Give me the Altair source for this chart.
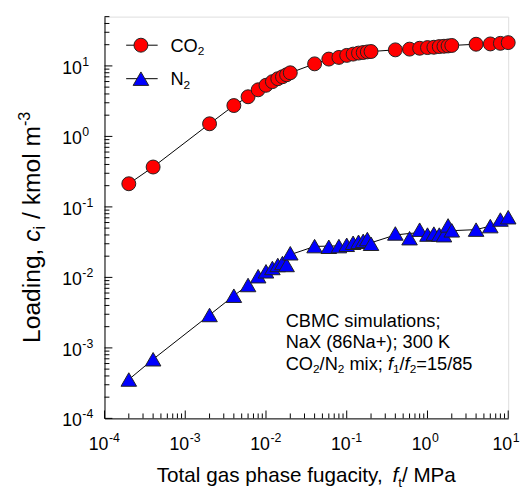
import altair as alt
import pandas as pd

# ---------------- data ----------------
fugacity = [2e-4, 4e-4, 2e-3, 4e-3, 6e-3, 8e-3, 1e-2, 1.2e-2, 1.4e-2, 1.6e-2, 1.8e-2, 2e-2,
            4e-2, 6e-2, 8e-2, 0.1, 0.12, 0.14, 0.16, 0.18, 0.2,
            0.4, 0.6, 0.8, 1.0, 1.2, 1.4, 1.6, 1.8, 2.0,
            4.0, 6.0, 8.0, 10.0]
co2_loading = [0.213, 0.368, 1.51, 2.74, 3.65, 4.58, 5.31, 5.98, 6.58, 7.02, 7.49, 7.99,
               10.7, 12.5, 13.2, 14.1, 14.7, 15.2, 15.5, 15.8, 16.0,
               16.9, 17.3, 17.8, 18.2, 18.4, 18.8, 19.0, 19.2, 19.5,
               20.3, 20.5, 20.9, 21.4]
n2_loading = [3.56e-4, 6.9e-4, 2.93e-3, 5.5e-3, 7.8e-3, 1.04e-2, 1.22e-2, 1.36e-2, 1.5e-2, 1.6e-2, 1.5e-2, 2.2e-2,
              2.78e-2, 2.72e-2, 2.78e-2, 2.9e-2, 3.1e-2, 3.2e-2, 3.3e-2, 3.5e-2, 3.0e-2,
              4.2e-2, 3.6e-2, 4.75e-2, 4.05e-2, 4.18e-2, 4.05e-2, 3.97e-2, 5.46e-2, 4.65e-2,
              4.76e-2, 5.34e-2, 6.62e-2, 7.14e-2]
# smooth line drawn through the N2 data
n2_curve = [3.56e-4, 6.9e-4, 2.93e-3, 5.5e-3, 7.8e-3, 1.02e-2, 1.2e-2, 1.36e-2, 1.52e-2, 1.66e-2, 1.8e-2, 2.1e-2,
            2.75e-2, 2.78e-2, 2.8e-2, 2.85e-2, 2.9e-2, 2.95e-2, 3.0e-2, 3.05e-2, 3.1e-2,
            4.0e-2, 4.2e-2, 4.3e-2, 4.35e-2, 4.4e-2, 4.45e-2, 4.5e-2, 4.55e-2, 4.6e-2,
            4.76e-2, 5.34e-2, 6.4e-2, 7.14e-2]

x_decades = [-4, -3, -2, -1, 0, 1]
y_decades = [-4, -3, -2, -1, 0, 1]

# ---------------- layout ----------------
W, H = 410, 408
FONT = "Liberation Sans"
xs = alt.Scale(type="log", domain=[1e-4, 10], nice=False)
ys = alt.Scale(type="log", domain=[1e-4, 50], nice=False)
ax = alt.Axis(domain=True, domainColor="black", domainWidth=1, ticks=False,
              labels=False, grid=False, title=None)

AW = {' ': 278, '(': 333, ')': 333, '+': 584, ',': 278, '-': 333, '.': 278, '/': 278, ';': 278,
      '=': 584, 'A': 667, 'B': 667, 'C': 722, 'K': 667, 'L': 556, 'M': 833, 'N': 722, 'O': 778,
      'P': 667, 'T': 611, 'X': 667, 'a': 556, 'c': 500, 'd': 556, 'e': 556, 'f': 278, 'g': 556,
      'h': 556, 'i': 222, 'k': 500, 'l': 222, 'm': 833, 'n': 556, 'o': 556, 'p': 556, 's': 500,
      't': 278, 'u': 556, 'x': 500, 'y': 500}


def tw(s, size):
    return sum(AW.get(c, 556) for c in s) * size / 1000.0


def rich(segs, x0, y0, size, angle=0, center=False):
    """segs: list of (text, kind) kind in n, i, sub, isub, sup"""
    total = 0
    for t, k in segs:
        fs = size * 0.65 if k in ("sub", "isub", "sup") else size
        total += tw(t, fs)
    pos = -total / 2 if center else 0
    layers = []
    for t, k in segs:
        fs = size * 0.65 if k in ("sub", "isub", "sup") else size
        shift = 0.2 * size if k in ("sub", "isub") else (-0.42 * size if k == "sup" else 0)
        style = "italic" if k in ("i", "isub") else "normal"
        stripped = t.lstrip(" ")
        lead = tw(t[: len(t) - len(stripped)], fs)
        p = pos + lead
        if angle == 0:
            px, py = x0 + p, y0 + shift
        else:
            px, py = x0 + shift, y0 - p
        layers.append(
            alt.Chart(alt.Data(values=[{}])).mark_text(
                text=stripped, align="left", baseline="alphabetic", font=FONT, fontSize=fs,
                fontStyle=style, angle=angle, color="black"
            ).encode(x=alt.value(px), y=alt.value(py))
        )
        pos += tw(t, fs)
    return layers


df = pd.DataFrame({"f": fugacity, "co2": co2_loading, "n2": n2_loading, "n2c": n2_curve})

co2_line = alt.Chart(df).mark_line(color="black", strokeWidth=1).encode(
    x=alt.X("f:Q", scale=xs, axis=ax), y=alt.Y("co2:Q", scale=ys, axis=ax), order="f:Q")
n2_line = alt.Chart(df).mark_line(color="black", strokeWidth=1).encode(
    x=alt.X("f:Q", scale=xs, axis=ax), y=alt.Y("n2c:Q", scale=ys, axis=ax), order="f:Q")
co2_pts = alt.Chart(df).mark_point(shape="circle", filled=True, fill="#ff0000", stroke="#222222",
                                   strokeWidth=1, size=200, opacity=1).encode(
    x=alt.X("f:Q", scale=xs, axis=ax), y=alt.Y("co2:Q", scale=ys, axis=ax))
n2_pts = alt.Chart(df).mark_point(shape="triangle-up", filled=True, fill="#0000ff", stroke="#222222",
                                  strokeWidth=1, size=250, opacity=1).encode(
    x=alt.X("f:Q", scale=xs, axis=ax), y=alt.Y("n2:Q", scale=ys, axis=ax))

# inside ticks
xt_major = [10.0 ** d for d in x_decades]
xt_minor = [m * 10.0 ** d for d in x_decades[:-1] for m in range(2, 10)]
yt_major = [10.0 ** d for d in y_decades]
yt_minor = [m * 10.0 ** d for d in y_decades[:-1] for m in range(2, 10)] + [20, 30, 40, 50]

tick_layers = [
    alt.Chart(pd.DataFrame({"v": xt_major})).mark_rule(color="black", strokeWidth=1).encode(
        x=alt.X("v:Q", scale=xs, axis=ax), y=alt.value(H), y2=alt.value(H - 8)),
    alt.Chart(pd.DataFrame({"v": xt_minor})).mark_rule(color="black", strokeWidth=1).encode(
        x=alt.X("v:Q", scale=xs, axis=ax), y=alt.value(H), y2=alt.value(H - 5)),
    alt.Chart(pd.DataFrame({"v": yt_major})).mark_rule(color="black", strokeWidth=1).encode(
        y=alt.Y("v:Q", scale=ys, axis=ax), x=alt.value(0), x2=alt.value(8)),
    alt.Chart(pd.DataFrame({"v": yt_minor})).mark_rule(color="black", strokeWidth=1).encode(
        y=alt.Y("v:Q", scale=ys, axis=ax), x=alt.value(0), x2=alt.value(5)),
]

# tick labels 10^n
xl = pd.DataFrame({"v": [10.0 ** d for d in x_decades], "e": [str(d) for d in x_decades], "b": ["10"] * 6})
yl = pd.DataFrame({"v": [10.0 ** d for d in y_decades], "e": [str(d) for d in y_decades], "b": ["10"] * 6})
label_layers = [
    alt.Chart(xl).mark_text(align="right", baseline="middle", font=FONT, fontSize=18, dx=4, color="black").encode(
        x=alt.X("v:Q", scale=xs, axis=ax), y=alt.value(H + 27), text="b:N"),
    alt.Chart(xl).mark_text(align="left", baseline="middle", font=FONT, fontSize=12.5, dx=4.5, color="black").encode(
        x=alt.X("v:Q", scale=xs, axis=ax), y=alt.value(H + 20), text="e:N"),
    alt.Chart(yl).mark_text(align="left", baseline="middle", font=FONT, fontSize=18, dy=3, color="black").encode(
        y=alt.Y("v:Q", scale=ys, axis=ax), x=alt.value(-43), text="b:N"),
    alt.Chart(yl).mark_text(align="left", baseline="middle", font=FONT, fontSize=12.5, dy=-4, color="black").encode(
        y=alt.Y("v:Q", scale=ys, axis=ax), x=alt.value(-43 + 20.5), text="e:N"),
]

# legend
leg = [
    alt.Chart(alt.Data(values=[{}])).mark_rule(color="black", strokeWidth=1).encode(
        x=alt.value(22), x2=alt.value(54), y=alt.value(29)),
    alt.Chart(alt.Data(values=[{}])).mark_point(shape="circle", filled=True, fill="#ff0000", stroke="#222222",
                                                strokeWidth=1, size=200, opacity=1).encode(
        x=alt.value(37), y=alt.value(29)),
    alt.Chart(alt.Data(values=[{}])).mark_rule(color="black", strokeWidth=1).encode(
        x=alt.value(22), x2=alt.value(54), y=alt.value(63)),
    alt.Chart(alt.Data(values=[{}])).mark_point(shape="triangle-up", filled=True, fill="#0000ff", stroke="#222222",
                                                strokeWidth=1, size=250, opacity=1).encode(
        x=alt.value(37), y=alt.value(63)),
]
leg += rich([("CO", "n"), ("2", "sub")], 67, 35.5, 18.5)
leg += rich([("N", "n"), ("2", "sub")], 67, 69.5, 18.5)

# annotation
ann = []
ann += rich([("CBMC simulations;", "n")], 184, 315.3, 18.5)
ann += rich([("NaX (86Na+); 300 K", "n")], 184, 337, 18.5)
ann += rich([("CO", "n"), ("2", "sub"), ("/N", "n"), ("2", "sub"), (" mix; ", "n"), ("f", "i"), ("1", "sub"),
             ("/", "n"), ("f", "i"), ("2", "sub"), ("=15/85", "n")], 184, 358.6, 18.5)

# axis titles
titles = []
titles += rich([("Total gas phase fugacity, ", "n"), ("f", "i"), ("t", "sub"), ("/ MPa", "n")],
               W / 2, 473, 21, center=True)
titles += rich([("Loading, ", "n"), ("c", "i"), ("i", "sub"), (" / kmol m", "n"), ("-3", "sup")],
               -65, H / 2 + 10, 25, angle=270, center=True)

chart = alt.layer(
    co2_line, n2_line, *tick_layers, co2_pts, n2_pts, *label_layers, *leg, *ann, *titles
).properties(
    width=W, height=H,
    autosize=alt.AutoSizeParams(type="none"),
    padding={"left": 98, "top": 5, "right": 14, "bottom": 72},
).configure_view(stroke=None).configure(background="white")

chart.save("out.html", embed_options={"renderer": "svg", "actions": False})
